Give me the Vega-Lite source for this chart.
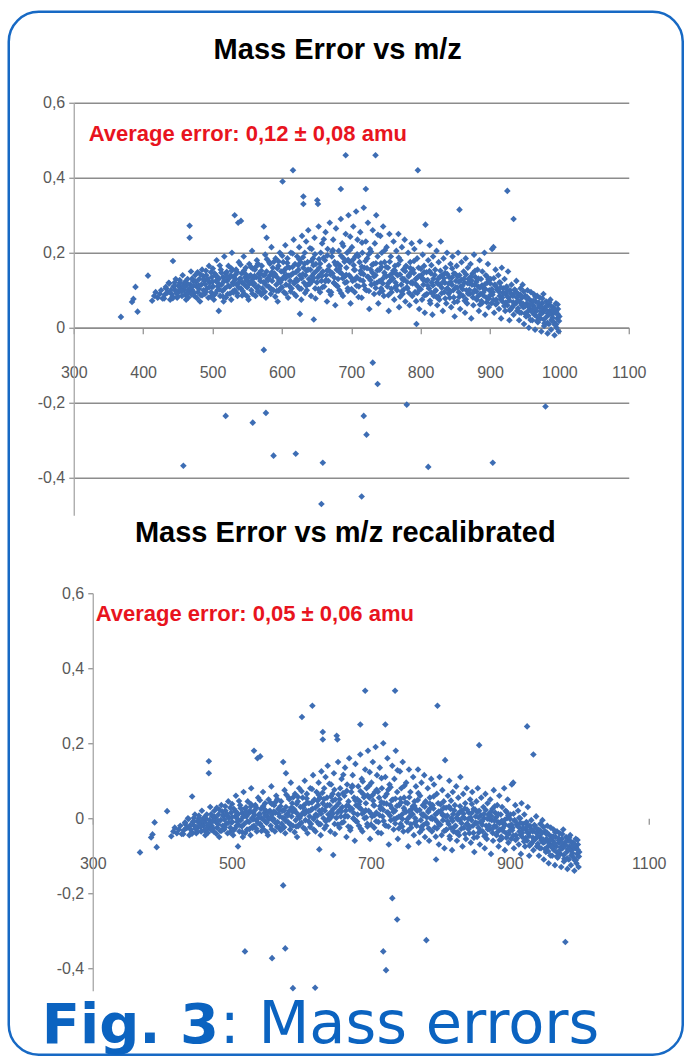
{
"$schema": "https://vega.github.io/schema/vega-lite/v6.json",
"background": "white",
"autosize": {"type": "pad"},
"padding": {"left": 6.75, "top": 9.75, "right": 0, "bottom": 0},
"bounds": "flush",
"spacing": 77.5,
"config": {
  "view": {"stroke": null},
  "axis": {"labelFont": "Liberation Sans", "labelFontSize": 16, "labelColor": "#595959", "domainColor": "#8c8c8c", "domainWidth": 1.3, "tickColor": "#8c8c8c", "tickWidth": 1.2, "gridColor": "#8c8c8c", "gridWidth": 1.3, "labelOverlap": false, "labelFlush": false}
},
"datasets": {
"top": [
{"mz":368,"err":0.029},{"mz":384,"err":0.069},{"mz":386,"err":0.077},{"mz":389,"err":0.109},{"mz":392,"err":0.043},{"mz":407,"err":0.139},
{"mz":413,"err":0.072},{"mz":416,"err":0.085},{"mz":418,"err":0.095},{"mz":421,"err":0.08},{"mz":424,"err":0.09},{"mz":426,"err":0.1},{"mz":428,"err":0.078},
{"mz":431,"err":0.088},{"mz":433,"err":0.105},{"mz":435,"err":0.095},{"mz":437,"err":0.12},{"mz":439,"err":0.075},
{"mz":441,"err":0.09},{"mz":443,"err":0.178},{"mz":444,"err":0.11},{"mz":446,"err":0.1},{"mz":447,"err":0.13},{"mz":449,"err":0.08},
{"mz":451,"err":0.095},{"mz":453,"err":0.12},{"mz":454,"err":0.105},{"mz":456,"err":0.085},{"mz":457,"err":0.14},{"mz":459,"err":0.1},
{"mz":461,"err":0.11},{"mz":462,"err":0.075},{"mz":464,"err":0.13},{"mz":466,"err":0.095},{"mz":467,"err":0.272},{"mz":467,"err":0.24},{"mz":468,"err":0.115},{"mz":469,"err":0.15},
{"mz":471,"err":0.1},{"mz":472,"err":0.125},{"mz":474,"err":0.085},{"mz":475,"err":0.14},{"mz":477,"err":0.11},{"mz":479,"err":0.095},
{"mz":481,"err":0.13},{"mz":482,"err":0.07},{"mz":484,"err":0.115},{"mz":485,"err":0.155},{"mz":487,"err":0.1},{"mz":488,"err":0.125},{"mz":489,"err":0.09},
{"mz":491,"err":0.14},{"mz":492,"err":0.105},{"mz":494,"err":0.08},{"mz":495,"err":0.165},{"mz":496,"err":0.12},{"mz":498,"err":0.095},{"mz":499,"err":0.135},
{"mz":501,"err":0.11},{"mz":502,"err":0.075},{"mz":503,"err":0.145},{"mz":505,"err":0.125},{"mz":506,"err":0.18},{"mz":507,"err":0.1},{"mz":509,"err":0.045},{"mz":509,"err":0.13},
{"mz":511,"err":0.085},{"mz":512,"err":0.155},{"mz":513,"err":0.115},{"mz":515,"err":0.135},{"mz":516,"err":0.07},{"mz":517,"err":0.19},{"mz":518,"err":0.105},{"mz":519,"err":0.145},
{"mz":521,"err":0.125},{"mz":522,"err":0.09},{"mz":523,"err":0.165},{"mz":525,"err":0.11},{"mz":526,"err":0.14},{"mz":527,"err":0.075},{"mz":528,"err":0.2},{"mz":529,"err":0.12},
{"mz":531,"err":0.135},{"mz":532,"err":0.3},{"mz":532,"err":0.1},{"mz":534,"err":0.155},{"mz":535,"err":0.115},{"mz":536,"err":0.085},{"mz":537,"err":0.28},{"mz":538,"err":0.175},{"mz":539,"err":0.13},
{"mz":541,"err":0.285},{"mz":541,"err":0.105},{"mz":542,"err":0.145},{"mz":543,"err":0.12},{"mz":545,"err":0.19},{"mz":546,"err":0.09},{"mz":547,"err":0.135},{"mz":548,"err":0.16},{"mz":549,"err":0.11},
{"mz":551,"err":0.125},{"mz":552,"err":0.075},{"mz":553,"err":0.17},{"mz":555,"err":0.14},{"mz":556,"err":0.1},{"mz":557,"err":0.205},{"mz":558,"err":0.13},{"mz":559,"err":0.115},
{"mz":561,"err":0.155},{"mz":562,"err":0.085},{"mz":563,"err":0.135},{"mz":564,"err":0.18},{"mz":566,"err":0.11},{"mz":567,"err":0.145},{"mz":568,"err":0.095},{"mz":569,"err":0.125},
{"mz":571,"err":0.165},{"mz":572,"err":0.105},{"mz":573,"err":0.14},{"mz":574,"err":0.27},{"mz":575,"err":0.12},{"mz":576,"err":0.195},{"mz":577,"err":0.08},{"mz":578,"err":0.24},{"mz":578,"err":0.15},{"mz":579,"err":0.13},
{"mz":581,"err":0.11},{"mz":582,"err":0.175},{"mz":583,"err":0.14},{"mz":584,"err":0.09},{"mz":585,"err":0.215},{"mz":586,"err":0.125},{"mz":587,"err":0.16},{"mz":588,"err":0.1},{"mz":589,"err":0.145},
{"mz":591,"err":0.185},{"mz":592,"err":0.115},{"mz":593,"err":0.135},{"mz":594,"err":0.07},{"mz":595,"err":0.165},{"mz":596,"err":0.125},{"mz":597,"err":0.2},{"mz":598,"err":0.105},{"mz":599,"err":0.15},
{"mz":601,"err":0.39},{"mz":601,"err":0.13},{"mz":602,"err":0.175},{"mz":603,"err":0.095},{"mz":604,"err":0.155},{"mz":605,"err":0.22},{"mz":606,"err":0.115},{"mz":607,"err":0.14},{"mz":608,"err":0.185},{"mz":609,"err":0.08},
{"mz":611,"err":0.16},{"mz":612,"err":0.125},{"mz":613,"err":0.2},{"mz":614,"err":0.105},{"mz":616,"err":0.42},{"mz":616,"err":0.145},{"mz":617,"err":0.235},{"mz":618,"err":0.09},{"mz":619,"err":0.17},
{"mz":621,"err":0.13},{"mz":622,"err":0.19},{"mz":623,"err":0.11},{"mz":624,"err":0.155},{"mz":625,"err":0.215},{"mz":626,"err":0.037},{"mz":626,"err":0.14},{"mz":627,"err":0.175},{"mz":628,"err":0.075},{"mz":629,"err":0.245},
{"mz":631,"err":0.33},{"mz":631,"err":0.35},{"mz":631,"err":0.16},{"mz":632,"err":0.12},{"mz":633,"err":0.2},{"mz":634,"err":0.14},{"mz":635,"err":0.23},{"mz":636,"err":0.1},{"mz":637,"err":0.175},{"mz":638,"err":0.26},{"mz":639,"err":0.13},
{"mz":641,"err":0.155},{"mz":642,"err":0.085},{"mz":643,"err":0.21},{"mz":644,"err":0.125},{"mz":645,"err":0.185},{"mz":646,"err":0.022},{"mz":646,"err":0.145},{"mz":647,"err":0.24},{"mz":648,"err":0.105},{"mz":649,"err":0.17},
{"mz":651,"err":0.34},{"mz":652,"err":0.33},{"mz":652,"err":0.135},{"mz":653,"err":0.27},{"mz":654,"err":0.16},{"mz":655,"err":0.095},{"mz":656,"err":0.2},{"mz":657,"err":0.125},{"mz":658,"err":0.225},{"mz":659,"err":0.15},
{"mz":661,"err":0.11},{"mz":662,"err":0.18},{"mz":663,"err":0.255},{"mz":664,"err":0.14},{"mz":665,"err":0.07},{"mz":666,"err":0.21},{"mz":667,"err":0.125},{"mz":668,"err":0.165},{"mz":669,"err":0.28},
{"mz":671,"err":0.095},{"mz":672,"err":0.19},{"mz":673,"err":0.145},{"mz":674,"err":0.235},{"mz":675,"err":0.12},{"mz":676,"err":0.175},{"mz":677,"err":0.06},{"mz":678,"err":0.265},{"mz":679,"err":0.155},
{"mz":681,"err":0.13},{"mz":682,"err":0.205},{"mz":683,"err":0.1},{"mz":684,"err":0.165},{"mz":685,"err":0.37},{"mz":685,"err":0.29},{"mz":686,"err":0.145},{"mz":687,"err":0.225},{"mz":688,"err":0.085},{"mz":689,"err":0.185},
{"mz":691,"err":0.12},{"mz":692,"err":0.46},{"mz":692,"err":0.25},{"mz":693,"err":0.16},{"mz":694,"err":0.2},{"mz":695,"err":0.105},{"mz":696,"err":0.3},{"mz":697,"err":0.14},{"mz":698,"err":0.175},{"mz":699,"err":0.065},
{"mz":701,"err":0.215},{"mz":702,"err":0.125},{"mz":703,"err":0.27},{"mz":704,"err":0.155},{"mz":705,"err":0.095},{"mz":706,"err":0.19},{"mz":707,"err":0.31},{"mz":708,"err":0.135},{"mz":709,"err":0.235},
{"mz":711,"err":0.11},{"mz":712,"err":0.175},{"mz":713,"err":0.255},{"mz":714,"err":0.145},{"mz":715,"err":0.08},{"mz":716,"err":0.2},{"mz":717,"err":0.125},{"mz":718,"err":0.32},{"mz":719,"err":0.16},
{"mz":721,"err":0.37},{"mz":721,"err":0.23},{"mz":722,"err":0.1},{"mz":723,"err":0.185},{"mz":724,"err":0.28},{"mz":725,"err":0.135},{"mz":726,"err":0.05},{"mz":727,"err":0.21},{"mz":728,"err":0.155},{"mz":729,"err":0.115},
{"mz":731,"err":0.26},{"mz":732,"err":0.17},{"mz":733,"err":0.09},{"mz":734,"err":0.225},{"mz":735,"err":0.46},{"mz":735,"err":0.14},{"mz":736,"err":0.3},{"mz":737,"err":0.12},{"mz":738,"err":0.19},{"mz":739,"err":0.065},
{"mz":741,"err":0.155},{"mz":742,"err":0.245},{"mz":743,"err":0.105},{"mz":744,"err":0.2},{"mz":745,"err":0.13},{"mz":746,"err":0.27},{"mz":747,"err":0.085},{"mz":748,"err":0.175},{"mz":749,"err":0.14},
{"mz":751,"err":0.215},{"mz":752,"err":0.11},{"mz":753,"err":0.16},{"mz":754,"err":0.045},{"mz":755,"err":0.25},{"mz":756,"err":0.125},{"mz":757,"err":0.19},{"mz":758,"err":0.095},{"mz":759,"err":0.145},
{"mz":761,"err":0.23},{"mz":762,"err":0.075},{"mz":763,"err":0.165},{"mz":764,"err":0.12},{"mz":765,"err":0.205},{"mz":766,"err":0.1},{"mz":767,"err":0.14},{"mz":768,"err":0.25},{"mz":769,"err":0.055},
{"mz":771,"err":0.18},{"mz":772,"err":0.115},{"mz":773,"err":0.215},{"mz":774,"err":0.09},{"mz":775,"err":0.155},{"mz":776,"err":0.13},{"mz":777,"err":0.235},{"mz":778,"err":0.07},{"mz":779,"err":0.165},
{"mz":781,"err":0.105},{"mz":782,"err":0.2},{"mz":783,"err":0.14},{"mz":784,"err":0.06},{"mz":785,"err":0.175},{"mz":786,"err":0.12},{"mz":787,"err":0.225},{"mz":788,"err":0.085},{"mz":789,"err":0.155},
{"mz":791,"err":0.21},{"mz":792,"err":0.095},{"mz":793,"err":0.13},{"mz":794,"err":0.01},{"mz":795,"err":0.185},{"mz":796,"err":0.42},{"mz":796,"err":0.11},{"mz":797,"err":0.16},{"mz":798,"err":0.05},{"mz":799,"err":0.23},
{"mz":801,"err":0.14},{"mz":802,"err":0.075},{"mz":803,"err":0.195},{"mz":804,"err":0.115},{"mz":805,"err":0.165},{"mz":806,"err":0.04},{"mz":807,"err":0.275},{"mz":808,"err":0.125},{"mz":809,"err":0.09},
{"mz":811,"err":0.18},{"mz":812,"err":0.105},{"mz":813,"err":0.22},{"mz":814,"err":0.065},{"mz":815,"err":0.145},{"mz":816,"err":0.12},{"mz":817,"err":0.035},{"mz":818,"err":0.19},{"mz":819,"err":0.085},
{"mz":821,"err":0.155},{"mz":822,"err":0.1},{"mz":823,"err":0.205},{"mz":824,"err":0.06},{"mz":825,"err":0.13},{"mz":826,"err":0.175},{"mz":827,"err":0.075},{"mz":828,"err":0.115},{"mz":829,"err":0.23},
{"mz":831,"err":0.14},{"mz":832,"err":0.045},{"mz":833,"err":0.185},{"mz":834,"err":0.095},{"mz":835,"err":0.12},{"mz":836,"err":0.16},{"mz":837,"err":0.065},{"mz":838,"err":0.2},{"mz":839,"err":0.105},
{"mz":841,"err":0.135},{"mz":842,"err":0.08},{"mz":843,"err":0.17},{"mz":844,"err":0.055},{"mz":845,"err":0.115},{"mz":846,"err":0.19},{"mz":847,"err":0.1},{"mz":848,"err":0.145},{"mz":849,"err":0.03},
{"mz":851,"err":0.125},{"mz":852,"err":0.165},{"mz":853,"err":0.07},{"mz":854,"err":0.2},{"mz":855,"err":0.095},{"mz":856,"err":0.315},{"mz":856,"err":0.14},{"mz":857,"err":0.05},{"mz":858,"err":0.11},{"mz":859,"err":0.175},
{"mz":861,"err":0.085},{"mz":862,"err":0.15},{"mz":863,"err":0.12},{"mz":864,"err":0.04},{"mz":865,"err":0.185},{"mz":866,"err":0.1},{"mz":867,"err":0.065},{"mz":868,"err":0.16},{"mz":869,"err":0.13},
{"mz":871,"err":0.09},{"mz":872,"err":0.17},{"mz":873,"err":0.025},{"mz":874,"err":0.115},{"mz":875,"err":0.145},{"mz":876,"err":0.06},{"mz":877,"err":0.195},{"mz":878,"err":0.1},{"mz":879,"err":0.135},
{"mz":881,"err":0.075},{"mz":882,"err":0.155},{"mz":883,"err":0.11},{"mz":884,"err":0.045},{"mz":885,"err":0.18},{"mz":886,"err":0.09},{"mz":887,"err":0.13},{"mz":888,"err":0.065},{"mz":889,"err":0.15},
{"mz":891,"err":0.105},{"mz":892,"err":0.2},{"mz":893,"err":0.035},{"mz":894,"err":0.14},{"mz":895,"err":0.08},{"mz":896,"err":0.12},{"mz":897,"err":0.17},{"mz":898,"err":0.055},{"mz":899,"err":0.1},
{"mz":901,"err":0.13},{"mz":902,"err":0.065},{"mz":903,"err":0.21},{"mz":904,"err":0.095},{"mz":905,"err":0.215},{"mz":906,"err":0.04},{"mz":907,"err":0.115},{"mz":908,"err":0.155},{"mz":909,"err":0.075},
{"mz":911,"err":0.1},{"mz":912,"err":0.14},{"mz":913,"err":0.05},{"mz":914,"err":0.085},{"mz":915,"err":0.12},{"mz":916,"err":0.025},{"mz":917,"err":0.16},{"mz":918,"err":0.07},{"mz":919,"err":0.105},
{"mz":921,"err":0.13},{"mz":922,"err":0.045},{"mz":923,"err":0.09},{"mz":924,"err":0.11},{"mz":925,"err":0.365},{"mz":925,"err":0.06},{"mz":926,"err":0.15},{"mz":927,"err":0.08},{"mz":928,"err":0.02},{"mz":929,"err":0.1},
{"mz":931,"err":0.115},{"mz":932,"err":0.055},{"mz":933,"err":0.085},{"mz":934,"err":0.29},{"mz":934,"err":0.035},{"mz":936,"err":0.1},{"mz":937,"err":0.065},{"mz":938,"err":0.125},{"mz":939,"err":0.045},
{"mz":941,"err":0.09},{"mz":942,"err":0.02},{"mz":943,"err":0.07},{"mz":944,"err":0.105},{"mz":945,"err":0.04},{"mz":946,"err":0.08},{"mz":947,"err":0.115},{"mz":948,"err":0.055},{"mz":949,"err":0.01},
{"mz":951,"err":0.085},{"mz":952,"err":0.03},{"mz":953,"err":0.065},{"mz":954,"err":0.1},{"mz":955,"err":0.045},{"mz":956,"err":0.0},{"mz":957,"err":0.075},{"mz":958,"err":0.05},{"mz":959,"err":0.095},
{"mz":961,"err":0.02},{"mz":962,"err":0.06},{"mz":963,"err":0.09},{"mz":964,"err":0.035},{"mz":965,"err":-0.005},{"mz":966,"err":0.07},{"mz":967,"err":0.045},{"mz":968,"err":0.085},{"mz":969,"err":0.015},
{"mz":971,"err":0.055},{"mz":972,"err":0.08},{"mz":973,"err":0.025},{"mz":974,"err":-0.01},{"mz":975,"err":0.065},{"mz":976,"err":0.04},{"mz":977,"err":0.09},{"mz":978,"err":0.005},{"mz":979,"err":0.05},
{"mz":981,"err":0.07},{"mz":982,"err":0.03},{"mz":983,"err":-0.015},{"mz":984,"err":0.06},{"mz":985,"err":0.01},{"mz":986,"err":0.045},{"mz":987,"err":0.075},{"mz":988,"err":-0.005},{"mz":989,"err":0.035},
{"mz":991,"err":0.055},{"mz":992,"err":0.015},{"mz":993,"err":-0.02},{"mz":994,"err":0.04},{"mz":995,"err":0.065},{"mz":996,"err":0.0},{"mz":997,"err":0.025},{"mz":998,"err":0.05},{"mz":999,"err":-0.01},{"mz":1000,"err":0.03},
{"mz":574,"err":-0.059},{"mz":731,"err":-0.093},{"mz":738,"err":-0.15},{"mz":780,"err":-0.205},{"mz":519,"err":-0.235},{"mz":558,"err":-0.253},{"mz":577,"err":-0.227},{"mz":588,"err":-0.341},{"mz":620,"err":-0.336},{"mz":659,"err":-0.36},{"mz":657,"err":-0.47},{"mz":715,"err":-0.45},{"mz":718,"err":-0.235},{"mz":722,"err":-0.285},{"mz":811,"err":-0.371},{"mz":904,"err":-0.36},{"mz":980,"err":-0.21},{"mz":458,"err":-0.368},
{"mz":442.5,"err":0.083},{"mz":445.5,"err":0.121},{"mz":448.5,"err":0.097},{"mz":450.5,"err":0.112},{"mz":460.5,"err":0.088},{"mz":463.5,"err":0.118},{"mz":465.5,"err":0.102},{"mz":470.5,"err":0.131},
{"mz":473.5,"err":0.093},{"mz":476.5,"err":0.122},{"mz":478.5,"err":0.148},{"mz":480.5,"err":0.104},{"mz":483.5,"err":0.087},{"mz":486.5,"err":0.138},{"mz":489.5,"err":0.116},{"mz":490.5,"err":0.152},
{"mz":493.5,"err":0.127},{"mz":497.5,"err":0.083},{"mz":499.5,"err":0.109},{"mz":500.5,"err":0.158},{"mz":504.5,"err":0.092},{"mz":506.5,"err":0.137},{"mz":508.5,"err":0.118},{"mz":510.5,"err":0.166},
{"mz":514.5,"err":0.098},{"mz":516.5,"err":0.124},{"mz":519.5,"err":0.081},{"mz":520.5,"err":0.149},{"mz":524.5,"err":0.133},{"mz":527.5,"err":0.158},{"mz":529.5,"err":0.097},{"mz":530.5,"err":0.117},
{"mz":533.5,"err":0.142},{"mz":535.5,"err":0.092},{"mz":538.5,"err":0.121},{"mz":540.5,"err":0.168},{"mz":543.5,"err":0.098},{"mz":545.5,"err":0.153},{"mz":548.5,"err":0.127},{"mz":550.5,"err":0.083},
{"mz":553.5,"err":0.118},{"mz":555.5,"err":0.162},{"mz":557.5,"err":0.091},{"mz":560.5,"err":0.138},{"mz":563.5,"err":0.107},{"mz":565.5,"err":0.171},{"mz":568.5,"err":0.143},{"mz":570.5,"err":0.088},
{"mz":573.5,"err":0.121},{"mz":575.5,"err":0.096},{"mz":578.5,"err":0.183},{"mz":580.5,"err":0.132},{"mz":583.5,"err":0.104},{"mz":585.5,"err":0.148},{"mz":588.5,"err":0.176},{"mz":590.5,"err":0.083},
{"mz":593.5,"err":0.158},{"mz":595.5,"err":0.099},{"mz":598.5,"err":0.128},{"mz":600.5,"err":0.192},{"mz":603.5,"err":0.137},{"mz":605.5,"err":0.091},{"mz":608.5,"err":0.162},{"mz":610.5,"err":0.112},
{"mz":613.5,"err":0.141},{"mz":615.5,"err":0.198},{"mz":618.5,"err":0.123},{"mz":620.5,"err":0.085},{"mz":623.5,"err":0.167},{"mz":625.5,"err":0.104},{"mz":628.5,"err":0.132},{"mz":630.5,"err":0.188},
{"mz":633.5,"err":0.093},{"mz":635.5,"err":0.152},{"mz":638.5,"err":0.117},{"mz":640.5,"err":0.212},{"mz":643.5,"err":0.138},{"mz":645.5,"err":0.167},{"mz":648.5,"err":0.078},{"mz":650.5,"err":0.121},
{"mz":653.5,"err":0.183},{"mz":655.5,"err":0.142},{"mz":658.5,"err":0.108},{"mz":660.5,"err":0.236},{"mz":663.5,"err":0.127},{"mz":665.5,"err":0.193},{"mz":668.5,"err":0.152},{"mz":670.5,"err":0.088},
{"mz":673.5,"err":0.207},{"mz":675.5,"err":0.134},{"mz":678.5,"err":0.113},{"mz":680.5,"err":0.171},{"mz":683.5,"err":0.148},{"mz":685.5,"err":0.092},{"mz":688.5,"err":0.218},{"mz":690.5,"err":0.137},
{"mz":693.5,"err":0.122},{"mz":695.5,"err":0.181},{"mz":698.5,"err":0.243},{"mz":700.5,"err":0.103},{"mz":703.5,"err":0.167},{"mz":705.5,"err":0.128},{"mz":708.5,"err":0.196},{"mz":710.5,"err":0.082},
{"mz":713.5,"err":0.152},{"mz":715.5,"err":0.227},{"mz":718.5,"err":0.113},{"mz":720.5,"err":0.178},{"mz":723.5,"err":0.136},{"mz":725.5,"err":0.098},{"mz":728.5,"err":0.203},{"mz":730.5,"err":0.147},
{"mz":733.5,"err":0.118},{"mz":735.5,"err":0.172},{"mz":738.5,"err":0.248},{"mz":740.5,"err":0.093},{"mz":743.5,"err":0.162},{"mz":745.5,"err":0.118},{"mz":748.5,"err":0.207},{"mz":750.5,"err":0.137},
{"mz":753.5,"err":0.087},{"mz":755.5,"err":0.176},{"mz":758.5,"err":0.128},{"mz":760.5,"err":0.152},{"mz":763.5,"err":0.108},{"mz":765.5,"err":0.143},{"mz":768.5,"err":0.187},{"mz":770.5,"err":0.083},
{"mz":773.5,"err":0.131},{"mz":775.5,"err":0.102},{"mz":778.5,"err":0.162},{"mz":780.5,"err":0.122},{"mz":783.5,"err":0.093},{"mz":785.5,"err":0.146},{"mz":788.5,"err":0.118},{"mz":790.5,"err":0.178},
{"mz":793.5,"err":0.071},{"mz":795.5,"err":0.134},{"mz":798.5,"err":0.103},{"mz":800.5,"err":0.157},{"mz":803.5,"err":0.128},{"mz":805.5,"err":0.086},{"mz":808.5,"err":0.148},{"mz":810.5,"err":0.112},
{"mz":813.5,"err":0.072},{"mz":815.5,"err":0.167},{"mz":818.5,"err":0.131},{"mz":820.5,"err":0.097},{"mz":823.5,"err":0.121},{"mz":825.5,"err":0.083},{"mz":828.5,"err":0.152},{"mz":830.5,"err":0.107},
{"mz":833.5,"err":0.132},{"mz":835.5,"err":0.078},{"mz":838.5,"err":0.143},{"mz":840.5,"err":0.091},{"mz":843.5,"err":0.122},{"mz":845.5,"err":0.158},{"mz":848.5,"err":0.068},{"mz":850.5,"err":0.108},
{"mz":853.5,"err":0.137},{"mz":855.5,"err":0.082},{"mz":858.5,"err":0.128},{"mz":860.5,"err":0.103},{"mz":863.5,"err":0.072},{"mz":865.5,"err":0.142},{"mz":868.5,"err":0.091},{"mz":870.5,"err":0.118},
{"mz":873.5,"err":0.126},{"mz":875.5,"err":0.081},{"mz":878.5,"err":0.152},{"mz":880.5,"err":0.097},{"mz":883.5,"err":0.131},{"mz":885.5,"err":0.062},{"mz":888.5,"err":0.113},{"mz":890.5,"err":0.086},
{"mz":893.5,"err":0.103},{"mz":895.5,"err":0.137},{"mz":898.5,"err":0.078},{"mz":900.5,"err":0.118},{"mz":903.5,"err":0.088},{"mz":905.5,"err":0.132},{"mz":908.5,"err":0.062},{"mz":910.5,"err":0.103},
{"mz":913.5,"err":0.121},{"mz":915.5,"err":0.076},{"mz":918.5,"err":0.093},{"mz":920.5,"err":0.058},{"mz":923.5,"err":0.107},{"mz":925.5,"err":0.082},{"mz":928.5,"err":0.047},{"mz":930.5,"err":0.091},
{"mz":933.5,"err":0.068},{"mz":935.5,"err":0.102},{"mz":938.5,"err":0.081},{"mz":940.5,"err":0.052},{"mz":943.5,"err":0.088},{"mz":945.5,"err":0.061},{"mz":948.5,"err":0.097},{"mz":950.5,"err":0.038},
{"mz":953.5,"err":0.082},{"mz":955.5,"err":0.056},{"mz":958.5,"err":0.021},{"mz":960.5,"err":0.071},{"mz":963.5,"err":0.052},{"mz":965.5,"err":0.083},{"mz":968.5,"err":0.028},{"mz":970.5,"err":0.061},
{"mz":973.5,"err":0.043},{"mz":975.5,"err":0.078},{"mz":978.5,"err":0.012},{"mz":980.5,"err":0.057},{"mz":983.5,"err":0.038},{"mz":985.5,"err":0.068},{"mz":988.5,"err":0.021},{"mz":990.5,"err":0.047},
{"mz":993.5,"err":0.008},{"mz":995.5,"err":0.042},{"mz":997.5,"err":0.062},{"mz":999.5,"err":0.018},
{"mz":430.25,"err":0.078},{"mz":432.75,"err":0.109},{"mz":435.25,"err":0.094},{"mz":437.75,"err":0.118},{"mz":440.25,"err":0.101},{"mz":442.75,"err":0.079},{"mz":445.25,"err":0.112},{"mz":447.75,"err":0.092},
{"mz":450.25,"err":0.084},{"mz":452.75,"err":0.127},{"mz":455.25,"err":0.097},{"mz":457.75,"err":0.113},{"mz":460.25,"err":0.122},{"mz":462.75,"err":0.091},{"mz":465.25,"err":0.081},{"mz":467.75,"err":0.106},
{"mz":470.25,"err":0.089},{"mz":472.75,"err":0.112},{"mz":475.25,"err":0.124},{"mz":477.75,"err":0.079},{"mz":480.25,"err":0.113},{"mz":482.75,"err":0.142},{"mz":485.25,"err":0.087},{"mz":487.75,"err":0.129},
{"mz":490.25,"err":0.096},{"mz":492.75,"err":0.131},{"mz":495.25,"err":0.108},{"mz":497.75,"err":0.148},{"mz":500.25,"err":0.123},{"mz":502.75,"err":0.088},{"mz":505.25,"err":0.139},{"mz":507.75,"err":0.111},
{"mz":510.25,"err":0.102},{"mz":512.75,"err":0.147},{"mz":515.25,"err":0.083},{"mz":517.75,"err":0.126},{"mz":520.25,"err":0.137},{"mz":522.75,"err":0.112},{"mz":525.25,"err":0.091},{"mz":527.75,"err":0.152},
{"mz":530.25,"err":0.094},{"mz":532.75,"err":0.128},{"mz":535.25,"err":0.149},{"mz":537.75,"err":0.107},{"mz":540.25,"err":0.131},{"mz":542.75,"err":0.086},{"mz":545.25,"err":0.117},{"mz":547.75,"err":0.143},
{"mz":550.25,"err":0.108},{"mz":552.75,"err":0.137},{"mz":555.25,"err":0.121},{"mz":557.75,"err":0.158},{"mz":560.25,"err":0.118},{"mz":562.75,"err":0.163},{"mz":565.25,"err":0.097},{"mz":567.75,"err":0.132},
{"mz":570.25,"err":0.152},{"mz":572.75,"err":0.092},{"mz":575.25,"err":0.141},{"mz":577.75,"err":0.113},{"mz":580.25,"err":0.127},{"mz":582.75,"err":0.171},{"mz":585.25,"err":0.103},{"mz":587.75,"err":0.138},
{"mz":590.25,"err":0.142},{"mz":592.75,"err":0.098},{"mz":595.25,"err":0.177},{"mz":597.75,"err":0.121},{"mz":600.25,"err":0.108},{"mz":602.75,"err":0.149},{"mz":605.25,"err":0.132},{"mz":607.75,"err":0.173},
{"mz":610.25,"err":0.139},{"mz":612.75,"err":0.097},{"mz":615.25,"err":0.162},{"mz":617.75,"err":0.118},{"mz":620.25,"err":0.148},{"mz":622.75,"err":0.126},{"mz":625.25,"err":0.182},{"mz":627.75,"err":0.104},
{"mz":630.25,"err":0.143},{"mz":632.75,"err":0.171},{"mz":635.25,"err":0.112},{"mz":637.75,"err":0.155},{"mz":640.25,"err":0.117},{"mz":642.75,"err":0.178},{"mz":645.25,"err":0.132},{"mz":647.75,"err":0.196},
{"mz":650.25,"err":0.152},{"mz":652.75,"err":0.103},{"mz":655.25,"err":0.171},{"mz":657.75,"err":0.138},{"mz":660.25,"err":0.187},{"mz":662.75,"err":0.124},{"mz":665.25,"err":0.153},{"mz":667.75,"err":0.098},
{"mz":670.25,"err":0.142},{"mz":672.75,"err":0.203},{"mz":675.25,"err":0.119},{"mz":677.75,"err":0.168},{"mz":680.25,"err":0.111},{"mz":682.75,"err":0.157},{"mz":685.25,"err":0.192},{"mz":687.75,"err":0.132},
{"mz":690.25,"err":0.176},{"mz":692.75,"err":0.141},{"mz":695.25,"err":0.098},{"mz":697.75,"err":0.207},{"mz":700.25,"err":0.133},{"mz":702.75,"err":0.182},{"mz":705.25,"err":0.154},{"mz":707.75,"err":0.112},
{"mz":710.25,"err":0.191},{"mz":712.75,"err":0.128},{"mz":715.25,"err":0.163},{"mz":717.75,"err":0.143},{"mz":720.25,"err":0.102},{"mz":722.75,"err":0.159},{"mz":725.25,"err":0.196},{"mz":727.75,"err":0.127},
{"mz":730.25,"err":0.168},{"mz":732.75,"err":0.137},{"mz":735.25,"err":0.106},{"mz":737.75,"err":0.153},{"mz":740.25,"err":0.124},{"mz":742.75,"err":0.172},{"mz":745.25,"err":0.098},{"mz":747.75,"err":0.147},
{"mz":750.25,"err":0.162},{"mz":752.75,"err":0.118},{"mz":755.25,"err":0.139},{"mz":757.75,"err":0.104},{"mz":760.25,"err":0.131},{"mz":762.75,"err":0.153},{"mz":765.25,"err":0.112},{"mz":767.75,"err":0.169},
{"mz":770.25,"err":0.142},{"mz":772.75,"err":0.096},{"mz":775.25,"err":0.127},{"mz":777.75,"err":0.151},{"mz":780.25,"err":0.108},{"mz":782.75,"err":0.137},{"mz":785.25,"err":0.159},{"mz":787.75,"err":0.122},
{"mz":790.25,"err":0.146},{"mz":792.75,"err":0.117},{"mz":795.25,"err":0.093},{"mz":797.75,"err":0.138},{"mz":800.25,"err":0.103},{"mz":802.75,"err":0.132},{"mz":805.25,"err":0.148},{"mz":807.75,"err":0.088},
{"mz":810.25,"err":0.127},{"mz":812.75,"err":0.151},{"mz":815.25,"err":0.094},{"mz":817.75,"err":0.113},{"mz":820.25,"err":0.141},{"mz":822.75,"err":0.082},{"mz":825.25,"err":0.117},{"mz":827.75,"err":0.136},
{"mz":830.25,"err":0.092},{"mz":832.75,"err":0.123},{"mz":835.25,"err":0.146},{"mz":837.75,"err":0.104},{"mz":840.25,"err":0.118},{"mz":842.75,"err":0.097},{"mz":845.25,"err":0.134},{"mz":847.75,"err":0.081},
{"mz":850.25,"err":0.143},{"mz":852.75,"err":0.107},{"mz":855.25,"err":0.122},{"mz":857.75,"err":0.088},{"mz":860.25,"err":0.112},{"mz":862.75,"err":0.131},{"mz":865.25,"err":0.076},{"mz":867.75,"err":0.119},
{"mz":870.25,"err":0.101},{"mz":872.75,"err":0.137},{"mz":875.25,"err":0.093},{"mz":877.75,"err":0.114},{"mz":880.25,"err":0.122},{"mz":882.75,"err":0.084},{"mz":885.25,"err":0.107},{"mz":887.75,"err":0.071},
{"mz":890.25,"err":0.094},{"mz":892.75,"err":0.116},{"mz":895.25,"err":0.068},{"mz":897.75,"err":0.128},{"mz":900.25,"err":0.087},{"mz":902.75,"err":0.103},{"mz":905.25,"err":0.074},{"mz":907.75,"err":0.112},
{"mz":910.25,"err":0.066},{"mz":912.75,"err":0.097},{"mz":915.25,"err":0.108},{"mz":917.75,"err":0.081},{"mz":920.25,"err":0.092},{"mz":922.75,"err":0.067},{"mz":925.25,"err":0.098},{"mz":927.75,"err":0.073},
{"mz":930.25,"err":0.051},{"mz":932.75,"err":0.088},{"mz":935.25,"err":0.063},{"mz":937.75,"err":0.094},{"mz":940.25,"err":0.072},{"mz":942.75,"err":0.041},{"mz":945.25,"err":0.083},{"mz":947.75,"err":0.064},
{"mz":950.25,"err":0.057},{"mz":952.75,"err":0.078},{"mz":955.25,"err":0.032},{"mz":957.75,"err":0.061},{"mz":960.25,"err":0.043},{"mz":962.75,"err":0.071},{"mz":965.25,"err":0.052},{"mz":967.75,"err":0.018},
{"mz":970.25,"err":0.067},{"mz":972.75,"err":0.036},{"mz":975.25,"err":0.054},{"mz":977.75,"err":0.022},{"mz":980.25,"err":0.048},{"mz":982.75,"err":0.013},{"mz":985.25,"err":0.037},{"mz":987.75,"err":0.058},
{"mz":990.25,"err":0.027},{"mz":992.75,"err":0.051},{"mz":995.25,"err":0.009},{"mz":997.75,"err":0.036}
],
"bottom": [
{"mz":368,"err":-0.091},{"mz":384,"err":-0.051},{"mz":386,"err":-0.043},{"mz":389,"err":-0.011},{"mz":392,"err":-0.077},{"mz":407,"err":0.019},
{"mz":413,"err":-0.048},{"mz":416,"err":-0.035},{"mz":418,"err":-0.025},{"mz":421,"err":-0.04},{"mz":424,"err":-0.03},{"mz":426,"err":-0.02},{"mz":428,"err":-0.042},
{"mz":431,"err":-0.032},{"mz":433,"err":-0.015},{"mz":435,"err":-0.025},{"mz":437,"err":0},{"mz":439,"err":-0.045},
{"mz":441,"err":-0.03},{"mz":443,"err":0.058},{"mz":444,"err":-0.01},{"mz":446,"err":-0.02},{"mz":447,"err":0.01},{"mz":449,"err":-0.04},
{"mz":451,"err":-0.025},{"mz":453,"err":0},{"mz":454,"err":-0.015},{"mz":456,"err":-0.035},{"mz":457,"err":0.02},{"mz":459,"err":-0.02},
{"mz":461,"err":-0.01},{"mz":462,"err":-0.045},{"mz":464,"err":0.01},{"mz":466,"err":-0.025},{"mz":467,"err":0.152},{"mz":467,"err":0.12},{"mz":468,"err":-0.005},{"mz":469,"err":0.03},
{"mz":471,"err":-0.02},{"mz":472,"err":0.005},{"mz":474,"err":-0.035},{"mz":475,"err":0.02},{"mz":477,"err":-0.01},{"mz":479,"err":-0.025},
{"mz":481,"err":0.01},{"mz":482,"err":-0.05},{"mz":484,"err":-0.005},{"mz":485,"err":0.035},{"mz":487,"err":-0.02},{"mz":488,"err":0.005},{"mz":489,"err":-0.03},
{"mz":491,"err":0.02},{"mz":492,"err":-0.015},{"mz":494,"err":-0.04},{"mz":495,"err":0.045},{"mz":496,"err":0},{"mz":498,"err":-0.025},{"mz":499,"err":0.015},
{"mz":501,"err":-0.01},{"mz":502,"err":-0.045},{"mz":503,"err":0.025},{"mz":505,"err":0.005},{"mz":506,"err":0.06},{"mz":507,"err":-0.02},{"mz":509,"err":-0.075},{"mz":509,"err":0.01},
{"mz":511,"err":-0.035},{"mz":512,"err":0.035},{"mz":513,"err":-0.005},{"mz":515,"err":0.015},{"mz":516,"err":-0.05},{"mz":517,"err":0.07},{"mz":518,"err":-0.015},{"mz":519,"err":0.025},
{"mz":521,"err":0.005},{"mz":522,"err":-0.03},{"mz":523,"err":0.045},{"mz":525,"err":-0.01},{"mz":526,"err":0.02},{"mz":527,"err":-0.045},{"mz":528,"err":0.08},{"mz":529,"err":0},
{"mz":531,"err":0.015},{"mz":532,"err":0.18},{"mz":532,"err":-0.02},{"mz":534,"err":0.035},{"mz":535,"err":-0.005},{"mz":536,"err":-0.035},{"mz":537,"err":0.16},{"mz":538,"err":0.055},{"mz":539,"err":0.01},
{"mz":541,"err":0.165},{"mz":541,"err":-0.015},{"mz":542,"err":0.025},{"mz":543,"err":0},{"mz":545,"err":0.07},{"mz":546,"err":-0.03},{"mz":547,"err":0.015},{"mz":548,"err":0.04},{"mz":549,"err":-0.01},
{"mz":551,"err":0.005},{"mz":552,"err":-0.045},{"mz":553,"err":0.05},{"mz":555,"err":0.02},{"mz":556,"err":-0.02},{"mz":557,"err":0.085},{"mz":558,"err":0.01},{"mz":559,"err":-0.005},
{"mz":561,"err":0.035},{"mz":562,"err":-0.035},{"mz":563,"err":0.015},{"mz":564,"err":0.06},{"mz":566,"err":-0.01},{"mz":567,"err":0.025},{"mz":568,"err":-0.025},{"mz":569,"err":0.005},
{"mz":571,"err":0.045},{"mz":572,"err":-0.015},{"mz":573,"err":0.02},{"mz":574,"err":0.15},{"mz":575,"err":0},{"mz":576,"err":0.075},{"mz":577,"err":-0.04},{"mz":578,"err":0.12},{"mz":578,"err":0.03},{"mz":579,"err":0.01},
{"mz":581,"err":-0.01},{"mz":582,"err":0.055},{"mz":583,"err":0.02},{"mz":584,"err":-0.03},{"mz":585,"err":0.095},{"mz":586,"err":0.005},{"mz":587,"err":0.04},{"mz":588,"err":-0.02},{"mz":589,"err":0.025},
{"mz":591,"err":0.065},{"mz":592,"err":-0.005},{"mz":593,"err":0.015},{"mz":594,"err":-0.05},{"mz":595,"err":0.045},{"mz":596,"err":0.005},{"mz":597,"err":0.08},{"mz":598,"err":-0.015},{"mz":599,"err":0.03},
{"mz":601,"err":0.27},{"mz":601,"err":0.01},{"mz":602,"err":0.055},{"mz":603,"err":-0.025},{"mz":604,"err":0.035},{"mz":605,"err":0.1},{"mz":606,"err":-0.005},{"mz":607,"err":0.02},{"mz":608,"err":0.065},{"mz":609,"err":-0.04},
{"mz":611,"err":0.04},{"mz":612,"err":0.005},{"mz":613,"err":0.08},{"mz":614,"err":-0.015},{"mz":616,"err":0.3},{"mz":616,"err":0.025},{"mz":617,"err":0.115},{"mz":618,"err":-0.03},{"mz":619,"err":0.05},
{"mz":621,"err":0.01},{"mz":622,"err":0.07},{"mz":623,"err":-0.01},{"mz":624,"err":0.035},{"mz":625,"err":0.095},{"mz":626,"err":-0.083},{"mz":626,"err":0.02},{"mz":627,"err":0.055},{"mz":628,"err":-0.045},{"mz":629,"err":0.125},
{"mz":631,"err":0.21},{"mz":631,"err":0.23},{"mz":631,"err":0.04},{"mz":632,"err":0},{"mz":633,"err":0.08},{"mz":634,"err":0.02},{"mz":635,"err":0.11},{"mz":636,"err":-0.02},{"mz":637,"err":0.055},{"mz":638,"err":0.14},{"mz":639,"err":0.01},
{"mz":641,"err":0.035},{"mz":642,"err":-0.035},{"mz":643,"err":0.09},{"mz":644,"err":0.005},{"mz":645,"err":0.065},{"mz":646,"err":-0.098},{"mz":646,"err":0.025},{"mz":647,"err":0.12},{"mz":648,"err":-0.015},{"mz":649,"err":0.05},
{"mz":651,"err":0.22},{"mz":652,"err":0.21},{"mz":652,"err":0.015},{"mz":653,"err":0.15},{"mz":654,"err":0.04},{"mz":655,"err":-0.025},{"mz":656,"err":0.08},{"mz":657,"err":0.005},{"mz":658,"err":0.105},{"mz":659,"err":0.03},
{"mz":661,"err":-0.01},{"mz":662,"err":0.06},{"mz":663,"err":0.135},{"mz":664,"err":0.02},{"mz":665,"err":-0.05},{"mz":666,"err":0.09},{"mz":667,"err":0.005},{"mz":668,"err":0.045},{"mz":669,"err":0.16},
{"mz":671,"err":-0.025},{"mz":672,"err":0.07},{"mz":673,"err":0.025},{"mz":674,"err":0.115},{"mz":675,"err":0},{"mz":676,"err":0.055},{"mz":677,"err":-0.06},{"mz":678,"err":0.145},{"mz":679,"err":0.035},
{"mz":681,"err":0.01},{"mz":682,"err":0.085},{"mz":683,"err":-0.02},{"mz":684,"err":0.045},{"mz":685,"err":0.25},{"mz":685,"err":0.17},{"mz":686,"err":0.025},{"mz":687,"err":0.105},{"mz":688,"err":-0.035},{"mz":689,"err":0.065},
{"mz":691,"err":0},{"mz":692,"err":0.34},{"mz":692,"err":0.13},{"mz":693,"err":0.04},{"mz":694,"err":0.08},{"mz":695,"err":-0.015},{"mz":696,"err":0.18},{"mz":697,"err":0.02},{"mz":698,"err":0.055},{"mz":699,"err":-0.055},
{"mz":701,"err":0.095},{"mz":702,"err":0.005},{"mz":703,"err":0.15},{"mz":704,"err":0.035},{"mz":705,"err":-0.025},{"mz":706,"err":0.07},{"mz":707,"err":0.19},{"mz":708,"err":0.015},{"mz":709,"err":0.115},
{"mz":711,"err":-0.01},{"mz":712,"err":0.055},{"mz":713,"err":0.135},{"mz":714,"err":0.025},{"mz":715,"err":-0.04},{"mz":716,"err":0.08},{"mz":717,"err":0.005},{"mz":718,"err":0.2},{"mz":719,"err":0.04},
{"mz":721,"err":0.25},{"mz":721,"err":0.11},{"mz":722,"err":-0.02},{"mz":723,"err":0.065},{"mz":724,"err":0.16},{"mz":725,"err":0.015},{"mz":726,"err":-0.07},{"mz":727,"err":0.09},{"mz":728,"err":0.035},{"mz":729,"err":-0.005},
{"mz":731,"err":0.14},{"mz":732,"err":0.05},{"mz":733,"err":-0.03},{"mz":734,"err":0.105},{"mz":735,"err":0.34},{"mz":735,"err":0.02},{"mz":736,"err":0.18},{"mz":737,"err":0},{"mz":738,"err":0.07},{"mz":739,"err":-0.055},
{"mz":741,"err":0.035},{"mz":742,"err":0.125},{"mz":743,"err":-0.015},{"mz":744,"err":0.08},{"mz":745,"err":0.01},{"mz":746,"err":0.15},{"mz":747,"err":-0.035},{"mz":748,"err":0.055},{"mz":749,"err":0.02},
{"mz":751,"err":0.095},{"mz":752,"err":-0.01},{"mz":753,"err":0.04},{"mz":754,"err":-0.075},{"mz":755,"err":0.13},{"mz":756,"err":0.005},{"mz":757,"err":0.07},{"mz":758,"err":-0.025},{"mz":759,"err":0.025},
{"mz":761,"err":0.11},{"mz":762,"err":-0.045},{"mz":763,"err":0.045},{"mz":764,"err":0},{"mz":765,"err":0.085},{"mz":766,"err":-0.02},{"mz":767,"err":0.02},{"mz":768,"err":0.13},{"mz":769,"err":-0.065},
{"mz":771,"err":0.06},{"mz":772,"err":-0.005},{"mz":773,"err":0.095},{"mz":774,"err":-0.03},{"mz":775,"err":0.035},{"mz":776,"err":0.01},{"mz":777,"err":0.115},{"mz":778,"err":-0.05},{"mz":779,"err":0.045},
{"mz":781,"err":-0.015},{"mz":782,"err":0.08},{"mz":783,"err":0.02},{"mz":784,"err":-0.06},{"mz":785,"err":0.055},{"mz":786,"err":0},{"mz":787,"err":0.105},{"mz":788,"err":-0.035},{"mz":789,"err":0.035},
{"mz":791,"err":0.09},{"mz":792,"err":-0.025},{"mz":793,"err":0.01},{"mz":794,"err":-0.11},{"mz":795,"err":0.065},{"mz":796,"err":0.3},{"mz":796,"err":-0.01},{"mz":797,"err":0.04},{"mz":798,"err":-0.07},{"mz":799,"err":0.11},
{"mz":801,"err":0.02},{"mz":802,"err":-0.045},{"mz":803,"err":0.075},{"mz":804,"err":-0.005},{"mz":805,"err":0.045},{"mz":806,"err":-0.08},{"mz":807,"err":0.155},{"mz":808,"err":0.005},{"mz":809,"err":-0.03},
{"mz":811,"err":0.06},{"mz":812,"err":-0.015},{"mz":813,"err":0.1},{"mz":814,"err":-0.055},{"mz":815,"err":0.025},{"mz":816,"err":0},{"mz":817,"err":-0.085},{"mz":818,"err":0.07},{"mz":819,"err":-0.035},
{"mz":821,"err":0.035},{"mz":822,"err":-0.02},{"mz":823,"err":0.085},{"mz":824,"err":-0.06},{"mz":825,"err":0.01},{"mz":826,"err":0.055},{"mz":827,"err":-0.045},{"mz":828,"err":-0.005},{"mz":829,"err":0.11},
{"mz":831,"err":0.02},{"mz":832,"err":-0.075},{"mz":833,"err":0.065},{"mz":834,"err":-0.025},{"mz":835,"err":0},{"mz":836,"err":0.04},{"mz":837,"err":-0.055},{"mz":838,"err":0.08},{"mz":839,"err":-0.015},
{"mz":841,"err":0.015},{"mz":842,"err":-0.04},{"mz":843,"err":0.05},{"mz":844,"err":-0.065},{"mz":845,"err":-0.005},{"mz":846,"err":0.07},{"mz":847,"err":-0.02},{"mz":848,"err":0.025},{"mz":849,"err":-0.09},
{"mz":851,"err":0.005},{"mz":852,"err":0.045},{"mz":853,"err":-0.05},{"mz":854,"err":0.08},{"mz":855,"err":-0.025},{"mz":856,"err":0.195},{"mz":856,"err":0.02},{"mz":857,"err":-0.07},{"mz":858,"err":-0.01},{"mz":859,"err":0.055},
{"mz":861,"err":-0.035},{"mz":862,"err":0.03},{"mz":863,"err":0},{"mz":864,"err":-0.08},{"mz":865,"err":0.065},{"mz":866,"err":-0.02},{"mz":867,"err":-0.055},{"mz":868,"err":0.04},{"mz":869,"err":0.01},
{"mz":871,"err":-0.03},{"mz":872,"err":0.05},{"mz":873,"err":-0.095},{"mz":874,"err":-0.005},{"mz":875,"err":0.025},{"mz":876,"err":-0.06},{"mz":877,"err":0.075},{"mz":878,"err":-0.02},{"mz":879,"err":0.015},
{"mz":881,"err":-0.045},{"mz":882,"err":0.035},{"mz":883,"err":-0.01},{"mz":884,"err":-0.075},{"mz":885,"err":0.06},{"mz":886,"err":-0.03},{"mz":887,"err":0.01},{"mz":888,"err":-0.055},{"mz":889,"err":0.03},
{"mz":891,"err":-0.015},{"mz":892,"err":0.08},{"mz":893,"err":-0.085},{"mz":894,"err":0.02},{"mz":895,"err":-0.04},{"mz":896,"err":0},{"mz":897,"err":0.05},{"mz":898,"err":-0.065},{"mz":899,"err":-0.02},
{"mz":901,"err":0.01},{"mz":902,"err":-0.055},{"mz":903,"err":0.09},{"mz":904,"err":-0.025},{"mz":905,"err":0.095},{"mz":906,"err":-0.08},{"mz":907,"err":-0.005},{"mz":908,"err":0.035},{"mz":909,"err":-0.045},
{"mz":911,"err":-0.02},{"mz":912,"err":0.02},{"mz":913,"err":-0.07},{"mz":914,"err":-0.035},{"mz":915,"err":0},{"mz":916,"err":-0.095},{"mz":917,"err":0.04},{"mz":918,"err":-0.05},{"mz":919,"err":-0.015},
{"mz":921,"err":0.01},{"mz":922,"err":-0.075},{"mz":923,"err":-0.03},{"mz":924,"err":-0.01},{"mz":925,"err":0.245},{"mz":925,"err":-0.06},{"mz":926,"err":0.03},{"mz":927,"err":-0.04},{"mz":928,"err":-0.1},{"mz":929,"err":-0.02},
{"mz":931,"err":-0.005},{"mz":932,"err":-0.065},{"mz":933,"err":-0.035},{"mz":934,"err":0.17},{"mz":934,"err":-0.085},{"mz":936,"err":-0.02},{"mz":937,"err":-0.055},{"mz":938,"err":0.005},{"mz":939,"err":-0.075},
{"mz":941,"err":-0.03},{"mz":942,"err":-0.1},{"mz":943,"err":-0.05},{"mz":944,"err":-0.015},{"mz":945,"err":-0.08},{"mz":946,"err":-0.04},{"mz":947,"err":-0.005},{"mz":948,"err":-0.065},{"mz":949,"err":-0.11},
{"mz":951,"err":-0.035},{"mz":952,"err":-0.09},{"mz":953,"err":-0.055},{"mz":954,"err":-0.02},{"mz":955,"err":-0.075},{"mz":956,"err":-0.12},{"mz":957,"err":-0.045},{"mz":958,"err":-0.07},{"mz":959,"err":-0.025},
{"mz":961,"err":-0.1},{"mz":962,"err":-0.06},{"mz":963,"err":-0.03},{"mz":964,"err":-0.085},{"mz":965,"err":-0.125},{"mz":966,"err":-0.05},{"mz":967,"err":-0.075},{"mz":968,"err":-0.035},{"mz":969,"err":-0.105},
{"mz":971,"err":-0.065},{"mz":972,"err":-0.04},{"mz":973,"err":-0.095},{"mz":974,"err":-0.13},{"mz":975,"err":-0.055},{"mz":976,"err":-0.08},{"mz":977,"err":-0.03},{"mz":978,"err":-0.115},{"mz":979,"err":-0.07},
{"mz":981,"err":-0.05},{"mz":982,"err":-0.09},{"mz":983,"err":-0.135},{"mz":984,"err":-0.06},{"mz":985,"err":-0.11},{"mz":986,"err":-0.075},{"mz":987,"err":-0.045},{"mz":988,"err":-0.125},{"mz":989,"err":-0.085},
{"mz":991,"err":-0.065},{"mz":992,"err":-0.105},{"mz":993,"err":-0.14},{"mz":994,"err":-0.08},{"mz":995,"err":-0.055},{"mz":996,"err":-0.12},{"mz":997,"err":-0.095},{"mz":998,"err":-0.07},{"mz":999,"err":-0.13},{"mz":1000,"err":-0.09},
{"mz":574,"err":-0.179},{"mz":731,"err":-0.213},{"mz":738,"err":-0.27},{"mz":780,"err":-0.325},{"mz":519,"err":-0.355},{"mz":558,"err":-0.373},{"mz":577,"err":-0.347},{"mz":588,"err":-0.453},{"mz":620,"err":-0.452},{"mz":718,"err":-0.355},{"mz":722,"err":-0.405},{"mz":980,"err":-0.33},
{"mz":442.5,"err":-0.037},{"mz":445.5,"err":0.001},{"mz":448.5,"err":-0.023},{"mz":450.5,"err":-0.008},{"mz":460.5,"err":-0.032},{"mz":463.5,"err":-0.002},{"mz":465.5,"err":-0.018},{"mz":470.5,"err":0.011},
{"mz":473.5,"err":-0.027},{"mz":476.5,"err":0.002},{"mz":478.5,"err":0.028},{"mz":480.5,"err":-0.016},{"mz":483.5,"err":-0.033},{"mz":486.5,"err":0.018},{"mz":489.5,"err":-0.004},{"mz":490.5,"err":0.032},
{"mz":493.5,"err":0.007},{"mz":497.5,"err":-0.037},{"mz":499.5,"err":-0.011},{"mz":500.5,"err":0.038},{"mz":504.5,"err":-0.028},{"mz":506.5,"err":0.017},{"mz":508.5,"err":-0.002},{"mz":510.5,"err":0.046},
{"mz":514.5,"err":-0.022},{"mz":516.5,"err":0.004},{"mz":519.5,"err":-0.039},{"mz":520.5,"err":0.029},{"mz":524.5,"err":0.013},{"mz":527.5,"err":0.038},{"mz":529.5,"err":-0.023},{"mz":530.5,"err":-0.003},
{"mz":533.5,"err":0.022},{"mz":535.5,"err":-0.028},{"mz":538.5,"err":0.001},{"mz":540.5,"err":0.048},{"mz":543.5,"err":-0.022},{"mz":545.5,"err":0.033},{"mz":548.5,"err":0.007},{"mz":550.5,"err":-0.037},
{"mz":553.5,"err":-0.002},{"mz":555.5,"err":0.042},{"mz":557.5,"err":-0.029},{"mz":560.5,"err":0.018},{"mz":563.5,"err":-0.013},{"mz":565.5,"err":0.051},{"mz":568.5,"err":0.023},{"mz":570.5,"err":-0.032},
{"mz":573.5,"err":0.001},{"mz":575.5,"err":-0.024},{"mz":578.5,"err":0.063},{"mz":580.5,"err":0.012},{"mz":583.5,"err":-0.016},{"mz":585.5,"err":0.028},{"mz":588.5,"err":0.056},{"mz":590.5,"err":-0.037},
{"mz":593.5,"err":0.038},{"mz":595.5,"err":-0.021},{"mz":598.5,"err":0.008},{"mz":600.5,"err":0.072},{"mz":603.5,"err":0.017},{"mz":605.5,"err":-0.029},{"mz":608.5,"err":0.042},{"mz":610.5,"err":-0.008},
{"mz":613.5,"err":0.021},{"mz":615.5,"err":0.078},{"mz":618.5,"err":0.003},{"mz":620.5,"err":-0.035},{"mz":623.5,"err":0.047},{"mz":625.5,"err":-0.016},{"mz":628.5,"err":0.012},{"mz":630.5,"err":0.068},
{"mz":633.5,"err":-0.027},{"mz":635.5,"err":0.032},{"mz":638.5,"err":-0.003},{"mz":640.5,"err":0.092},{"mz":643.5,"err":0.018},{"mz":645.5,"err":0.047},{"mz":648.5,"err":-0.042},{"mz":650.5,"err":0.001},
{"mz":653.5,"err":0.063},{"mz":655.5,"err":0.022},{"mz":658.5,"err":-0.012},{"mz":660.5,"err":0.116},{"mz":663.5,"err":0.007},{"mz":665.5,"err":0.073},{"mz":668.5,"err":0.032},{"mz":670.5,"err":-0.032},
{"mz":673.5,"err":0.087},{"mz":675.5,"err":0.014},{"mz":678.5,"err":-0.007},{"mz":680.5,"err":0.051},{"mz":683.5,"err":0.028},{"mz":685.5,"err":-0.028},{"mz":688.5,"err":0.098},{"mz":690.5,"err":0.017},
{"mz":693.5,"err":0.002},{"mz":695.5,"err":0.061},{"mz":698.5,"err":0.123},{"mz":700.5,"err":-0.017},{"mz":703.5,"err":0.047},{"mz":705.5,"err":0.008},{"mz":708.5,"err":0.076},{"mz":710.5,"err":-0.038},
{"mz":713.5,"err":0.032},{"mz":715.5,"err":0.107},{"mz":718.5,"err":-0.007},{"mz":720.5,"err":0.058},{"mz":723.5,"err":0.016},{"mz":725.5,"err":-0.022},{"mz":728.5,"err":0.083},{"mz":730.5,"err":0.027},
{"mz":733.5,"err":-0.002},{"mz":735.5,"err":0.052},{"mz":738.5,"err":0.128},{"mz":740.5,"err":-0.027},{"mz":743.5,"err":0.042},{"mz":745.5,"err":-0.002},{"mz":748.5,"err":0.087},{"mz":750.5,"err":0.017},
{"mz":753.5,"err":-0.033},{"mz":755.5,"err":0.056},{"mz":758.5,"err":0.008},{"mz":760.5,"err":0.032},{"mz":763.5,"err":-0.012},{"mz":765.5,"err":0.023},{"mz":768.5,"err":0.067},{"mz":770.5,"err":-0.037},
{"mz":773.5,"err":0.011},{"mz":775.5,"err":-0.018},{"mz":778.5,"err":0.042},{"mz":780.5,"err":0.002},{"mz":783.5,"err":-0.027},{"mz":785.5,"err":0.026},{"mz":788.5,"err":-0.002},{"mz":790.5,"err":0.058},
{"mz":793.5,"err":-0.049},{"mz":795.5,"err":0.014},{"mz":798.5,"err":-0.017},{"mz":800.5,"err":0.037},{"mz":803.5,"err":0.008},{"mz":805.5,"err":-0.034},{"mz":808.5,"err":0.028},{"mz":810.5,"err":-0.008},
{"mz":813.5,"err":-0.048},{"mz":815.5,"err":0.047},{"mz":818.5,"err":0.011},{"mz":820.5,"err":-0.023},{"mz":823.5,"err":0.001},{"mz":825.5,"err":-0.037},{"mz":828.5,"err":0.032},{"mz":830.5,"err":-0.013},
{"mz":833.5,"err":0.012},{"mz":835.5,"err":-0.042},{"mz":838.5,"err":0.023},{"mz":840.5,"err":-0.029},{"mz":843.5,"err":0.002},{"mz":845.5,"err":0.038},{"mz":848.5,"err":-0.052},{"mz":850.5,"err":-0.012},
{"mz":853.5,"err":0.017},{"mz":855.5,"err":-0.038},{"mz":858.5,"err":0.008},{"mz":860.5,"err":-0.017},{"mz":863.5,"err":-0.048},{"mz":865.5,"err":0.022},{"mz":868.5,"err":-0.029},{"mz":870.5,"err":-0.002},
{"mz":873.5,"err":0.006},{"mz":875.5,"err":-0.039},{"mz":878.5,"err":0.032},{"mz":880.5,"err":-0.023},{"mz":883.5,"err":0.011},{"mz":885.5,"err":-0.058},{"mz":888.5,"err":-0.007},{"mz":890.5,"err":-0.034},
{"mz":893.5,"err":-0.017},{"mz":895.5,"err":0.017},{"mz":898.5,"err":-0.042},{"mz":900.5,"err":-0.002},{"mz":903.5,"err":-0.032},{"mz":905.5,"err":0.012},{"mz":908.5,"err":-0.058},{"mz":910.5,"err":-0.017},
{"mz":913.5,"err":0.001},{"mz":915.5,"err":-0.044},{"mz":918.5,"err":-0.027},{"mz":920.5,"err":-0.062},{"mz":923.5,"err":-0.013},{"mz":925.5,"err":-0.038},{"mz":928.5,"err":-0.073},{"mz":930.5,"err":-0.029},
{"mz":933.5,"err":-0.052},{"mz":935.5,"err":-0.018},{"mz":938.5,"err":-0.039},{"mz":940.5,"err":-0.068},{"mz":943.5,"err":-0.032},{"mz":945.5,"err":-0.059},{"mz":948.5,"err":-0.023},{"mz":950.5,"err":-0.082},
{"mz":953.5,"err":-0.038},{"mz":955.5,"err":-0.064},{"mz":958.5,"err":-0.099},{"mz":960.5,"err":-0.049},{"mz":963.5,"err":-0.068},{"mz":965.5,"err":-0.037},{"mz":968.5,"err":-0.092},{"mz":970.5,"err":-0.059},
{"mz":973.5,"err":-0.077},{"mz":975.5,"err":-0.042},{"mz":978.5,"err":-0.108},{"mz":980.5,"err":-0.063},{"mz":983.5,"err":-0.082},{"mz":985.5,"err":-0.052},{"mz":988.5,"err":-0.099},{"mz":990.5,"err":-0.073},
{"mz":993.5,"err":-0.112},{"mz":995.5,"err":-0.078},{"mz":997.5,"err":-0.058},{"mz":999.5,"err":-0.102},
{"mz":430.25,"err":-0.042},{"mz":432.75,"err":-0.011},{"mz":435.25,"err":-0.026},{"mz":437.75,"err":-0.002},{"mz":440.25,"err":-0.019},{"mz":442.75,"err":-0.041},{"mz":445.25,"err":-0.008},{"mz":447.75,"err":-0.028},
{"mz":450.25,"err":-0.036},{"mz":452.75,"err":0.007},{"mz":455.25,"err":-0.023},{"mz":457.75,"err":-0.007},{"mz":460.25,"err":0.002},{"mz":462.75,"err":-0.029},{"mz":465.25,"err":-0.039},{"mz":467.75,"err":-0.014},
{"mz":470.25,"err":-0.031},{"mz":472.75,"err":-0.008},{"mz":475.25,"err":0.004},{"mz":477.75,"err":-0.041},{"mz":480.25,"err":-0.007},{"mz":482.75,"err":0.022},{"mz":485.25,"err":-0.033},{"mz":487.75,"err":0.009},
{"mz":490.25,"err":-0.024},{"mz":492.75,"err":0.011},{"mz":495.25,"err":-0.012},{"mz":497.75,"err":0.028},{"mz":500.25,"err":0.003},{"mz":502.75,"err":-0.032},{"mz":505.25,"err":0.019},{"mz":507.75,"err":-0.009},
{"mz":510.25,"err":-0.018},{"mz":512.75,"err":0.027},{"mz":515.25,"err":-0.037},{"mz":517.75,"err":0.006},{"mz":520.25,"err":0.017},{"mz":522.75,"err":-0.008},{"mz":525.25,"err":-0.029},{"mz":527.75,"err":0.032},
{"mz":530.25,"err":-0.026},{"mz":532.75,"err":0.008},{"mz":535.25,"err":0.029},{"mz":537.75,"err":-0.013},{"mz":540.25,"err":0.011},{"mz":542.75,"err":-0.034},{"mz":545.25,"err":-0.003},{"mz":547.75,"err":0.023},
{"mz":550.25,"err":-0.012},{"mz":552.75,"err":0.017},{"mz":555.25,"err":0.001},{"mz":557.75,"err":0.038},{"mz":560.25,"err":-0.002},{"mz":562.75,"err":0.043},{"mz":565.25,"err":-0.023},{"mz":567.75,"err":0.012},
{"mz":570.25,"err":0.032},{"mz":572.75,"err":-0.028},{"mz":575.25,"err":0.021},{"mz":577.75,"err":-0.007},{"mz":580.25,"err":0.007},{"mz":582.75,"err":0.051},{"mz":585.25,"err":-0.017},{"mz":587.75,"err":0.018},
{"mz":590.25,"err":0.022},{"mz":592.75,"err":-0.022},{"mz":595.25,"err":0.057},{"mz":597.75,"err":0.001},{"mz":600.25,"err":-0.012},{"mz":602.75,"err":0.029},{"mz":605.25,"err":0.012},{"mz":607.75,"err":0.053},
{"mz":610.25,"err":0.019},{"mz":612.75,"err":-0.023},{"mz":615.25,"err":0.042},{"mz":617.75,"err":-0.002},{"mz":620.25,"err":0.028},{"mz":622.75,"err":0.006},{"mz":625.25,"err":0.062},{"mz":627.75,"err":-0.016},
{"mz":630.25,"err":0.023},{"mz":632.75,"err":0.051},{"mz":635.25,"err":-0.008},{"mz":637.75,"err":0.035},{"mz":640.25,"err":-0.003},{"mz":642.75,"err":0.058},{"mz":645.25,"err":0.012},{"mz":647.75,"err":0.076},
{"mz":650.25,"err":0.032},{"mz":652.75,"err":-0.017},{"mz":655.25,"err":0.051},{"mz":657.75,"err":0.018},{"mz":660.25,"err":0.067},{"mz":662.75,"err":0.004},{"mz":665.25,"err":0.033},{"mz":667.75,"err":-0.022},
{"mz":670.25,"err":0.022},{"mz":672.75,"err":0.083},{"mz":675.25,"err":-0.001},{"mz":677.75,"err":0.048},{"mz":680.25,"err":-0.009},{"mz":682.75,"err":0.037},{"mz":685.25,"err":0.072},{"mz":687.75,"err":0.012},
{"mz":690.25,"err":0.056},{"mz":692.75,"err":0.021},{"mz":695.25,"err":-0.022},{"mz":697.75,"err":0.087},{"mz":700.25,"err":0.013},{"mz":702.75,"err":0.062},{"mz":705.25,"err":0.034},{"mz":707.75,"err":-0.008},
{"mz":710.25,"err":0.071},{"mz":712.75,"err":0.008},{"mz":715.25,"err":0.043},{"mz":717.75,"err":0.023},{"mz":720.25,"err":-0.018},{"mz":722.75,"err":0.039},{"mz":725.25,"err":0.076},{"mz":727.75,"err":0.007},
{"mz":730.25,"err":0.048},{"mz":732.75,"err":0.017},{"mz":735.25,"err":-0.014},{"mz":737.75,"err":0.033},{"mz":740.25,"err":0.004},{"mz":742.75,"err":0.052},{"mz":745.25,"err":-0.022},{"mz":747.75,"err":0.027},
{"mz":750.25,"err":0.042},{"mz":752.75,"err":-0.002},{"mz":755.25,"err":0.019},{"mz":757.75,"err":-0.016},{"mz":760.25,"err":0.011},{"mz":762.75,"err":0.033},{"mz":765.25,"err":-0.008},{"mz":767.75,"err":0.049},
{"mz":770.25,"err":0.022},{"mz":772.75,"err":-0.024},{"mz":775.25,"err":0.007},{"mz":777.75,"err":0.031},{"mz":780.25,"err":-0.012},{"mz":782.75,"err":0.017},{"mz":785.25,"err":0.039},{"mz":787.75,"err":0.002},
{"mz":790.25,"err":0.026},{"mz":792.75,"err":-0.003},{"mz":795.25,"err":-0.027},{"mz":797.75,"err":0.018},{"mz":800.25,"err":-0.017},{"mz":802.75,"err":0.012},{"mz":805.25,"err":0.028},{"mz":807.75,"err":-0.032},
{"mz":810.25,"err":0.007},{"mz":812.75,"err":0.031},{"mz":815.25,"err":-0.026},{"mz":817.75,"err":-0.007},{"mz":820.25,"err":0.021},{"mz":822.75,"err":-0.038},{"mz":825.25,"err":-0.003},{"mz":827.75,"err":0.016},
{"mz":830.25,"err":-0.028},{"mz":832.75,"err":0.003},{"mz":835.25,"err":0.026},{"mz":837.75,"err":-0.016},{"mz":840.25,"err":-0.002},{"mz":842.75,"err":-0.023},{"mz":845.25,"err":0.014},{"mz":847.75,"err":-0.039},
{"mz":850.25,"err":0.023},{"mz":852.75,"err":-0.013},{"mz":855.25,"err":0.002},{"mz":857.75,"err":-0.032},{"mz":860.25,"err":-0.008},{"mz":862.75,"err":0.011},{"mz":865.25,"err":-0.044},{"mz":867.75,"err":-0.001},
{"mz":870.25,"err":-0.019},{"mz":872.75,"err":0.017},{"mz":875.25,"err":-0.027},{"mz":877.75,"err":-0.006},{"mz":880.25,"err":0.002},{"mz":882.75,"err":-0.036},{"mz":885.25,"err":-0.013},{"mz":887.75,"err":-0.049},
{"mz":890.25,"err":-0.026},{"mz":892.75,"err":-0.004},{"mz":895.25,"err":-0.052},{"mz":897.75,"err":0.008},{"mz":900.25,"err":-0.033},{"mz":902.75,"err":-0.017},{"mz":905.25,"err":-0.046},{"mz":907.75,"err":-0.008},
{"mz":910.25,"err":-0.054},{"mz":912.75,"err":-0.023},{"mz":915.25,"err":-0.012},{"mz":917.75,"err":-0.039},{"mz":920.25,"err":-0.028},{"mz":922.75,"err":-0.053},{"mz":925.25,"err":-0.022},{"mz":927.75,"err":-0.047},
{"mz":930.25,"err":-0.069},{"mz":932.75,"err":-0.032},{"mz":935.25,"err":-0.057},{"mz":937.75,"err":-0.026},{"mz":940.25,"err":-0.048},{"mz":942.75,"err":-0.079},{"mz":945.25,"err":-0.037},{"mz":947.75,"err":-0.056},
{"mz":950.25,"err":-0.063},{"mz":952.75,"err":-0.042},{"mz":955.25,"err":-0.088},{"mz":957.75,"err":-0.059},{"mz":960.25,"err":-0.077},{"mz":962.75,"err":-0.049},{"mz":965.25,"err":-0.068},{"mz":967.75,"err":-0.102},
{"mz":970.25,"err":-0.053},{"mz":972.75,"err":-0.084},{"mz":975.25,"err":-0.066},{"mz":977.75,"err":-0.098},{"mz":980.25,"err":-0.072},{"mz":982.75,"err":-0.107},{"mz":985.25,"err":-0.083},{"mz":987.75,"err":-0.062},
{"mz":990.25,"err":-0.093},{"mz":992.75,"err":-0.069},{"mz":995.25,"err":-0.111},{"mz":997.75,"err":-0.084}
]
},
"vconcat": [
{
  "width": 555,
  "height": 412.5,
  "encoding": {
    "x": {"field": "mz", "type": "quantitative", "title": null, "scale": {"domain": [300, 1100], "nice": false, "zero": false},
          "axis": {"orient": "bottom", "offset": -187.5, "values": [300,400,500,600,700,800,900,1000,1100], "grid": false, "domain": true, "ticks": true, "tickSize": 6, "labelPadding": 31, "format": "d"}},
    "y": {"field": "err", "type": "quantitative", "title": null, "scale": {"domain": [-0.5, 0.6], "nice": false, "zero": false},
          "axis": {"values": [-0.4,-0.2,0,0.2,0.4,0.6], "grid": true, "tickSize": 5, "labelPadding": 4, "domainColor": "#a6a6a6",
                   "labelExpr": "datum.value == 0 ? '0' : (datum.value < 0 ? '-' : '') + replace(format(abs(datum.value), '.1f'), '.', ',')"}}
  },
  "layer": [
    {
      "data": {"values": [{"mz": 206.306, "mz2": 1177.84, "err": 0.84267, "err2": -1.93867}]},
      "mark": {"type": "rect", "filled": false, "stroke": "#1769c4", "strokeWidth": 2.5, "cornerRadius": 30},
      "encoding": {"x2": {"field": "mz2"}, "y2": {"field": "err2"}}
    },
    {
      "data": {"name": "top"},
      "mark": {"type": "point", "shape": "diamond", "filled": true, "size": 44, "color": "#3d6db4", "opacity": 1}
    },
    {
      "data": {"values": [{"mz": 680.5, "err": 0.7173, "label": "Mass Error vs m/z"}]},
      "mark": {"type": "text", "align": "center", "baseline": "alphabetic", "font": "Liberation Sans", "fontSize": 29, "fontWeight": "bold", "color": "#000000"},
      "encoding": {"text": {"field": "label"}}
    },
    {
      "data": {"values": [{"mz": 321.6, "err": 0.517, "label": "Average error: 0,12 ± 0,08 amu"}]},
      "mark": {"type": "text", "align": "left", "baseline": "middle", "font": "Liberation Sans", "fontSize": 22, "fontWeight": "bold", "color": "#e8141e"},
      "encoding": {"text": {"field": "label"}}
    }
  ]
},
{
  "width": 575,
  "height": 397.5,
  "encoding": {
    "x": {"field": "mz", "type": "quantitative", "title": null, "scale": {"domain": [272.66, 1100], "nice": false, "zero": false},
          "axis": {"orient": "bottom", "offset": -172.5, "values": [300,500,700,900,1100], "grid": false, "domain": false, "ticks": true, "tickSize": 6, "labelPadding": 31, "format": "d"}},
    "y": {"field": "err", "type": "quantitative", "title": null, "scale": {"domain": [-0.46, 0.6], "nice": false, "zero": false},
          "axis": {"values": [-0.4,-0.2,0,0.2,0.4,0.6], "grid": false, "offset": -19, "tickSize": 5, "labelPadding": 4, "domainColor": "#a6a6a6",
                   "labelExpr": "datum.value == 0 ? '0' : (datum.value < 0 ? '-' : '') + replace(format(abs(datum.value), '.1f'), '.', ',')"}}
  },
  "layer": [
    {
      "data": {"values": [{"err": -0.4}, {"err": -0.2}, {"err": 0}, {"err": 0.2}, {"err": 0.4}, {"err": 0.6}]},
      "mark": {"type": "rule", "color": "#8c8c8c", "strokeWidth": 1.3},
      "encoding": {"x": {"datum": 300, "type": "quantitative"}, "x2": {"datum": 1100}}
    },
    {
      "data": {"name": "bottom"},
      "mark": {"type": "point", "shape": "diamond", "filled": true, "size": 44, "color": "#3d6db4", "opacity": 1}
    },
    {
      "data": {"values": [{"mz": 663.3, "err": 0.736, "label": "Mass Error vs m/z recalibrated"}]},
      "mark": {"type": "text", "align": "center", "baseline": "alphabetic", "font": "Liberation Sans", "fontSize": 29, "fontWeight": "bold", "color": "#000000"},
      "encoding": {"text": {"field": "label"}}
    },
    {
      "data": {"values": [{"mz": 304.3, "err": 0.544, "label": "Average error: 0,05 ± 0,06 amu"}]},
      "mark": {"type": "text", "align": "left", "baseline": "middle", "font": "Liberation Sans", "fontSize": 22, "fontWeight": "bold", "color": "#e8141e"},
      "encoding": {"text": {"field": "label"}}
    },
    {
      "data": {"values": [{"mz": 226.62, "err": -0.6, "label": "Fig. 3"}]},
      "mark": {"type": "text", "align": "left", "baseline": "alphabetic", "font": "DejaVu Sans", "fontSize": 56, "fontWeight": "bold", "color": "#0b63c0"},
      "encoding": {"text": {"field": "label"}}
    },
    {
      "data": {"values": [{"mz": 482.73, "err": -0.6, "label": ": Mass errors"}]},
      "mark": {"type": "text", "align": "left", "baseline": "alphabetic", "font": "DejaVu Sans", "fontSize": 59, "fontWeight": "normal", "color": "#0b63c0"},
      "encoding": {"text": {"field": "label"}}
    }
  ]
}
]
}
